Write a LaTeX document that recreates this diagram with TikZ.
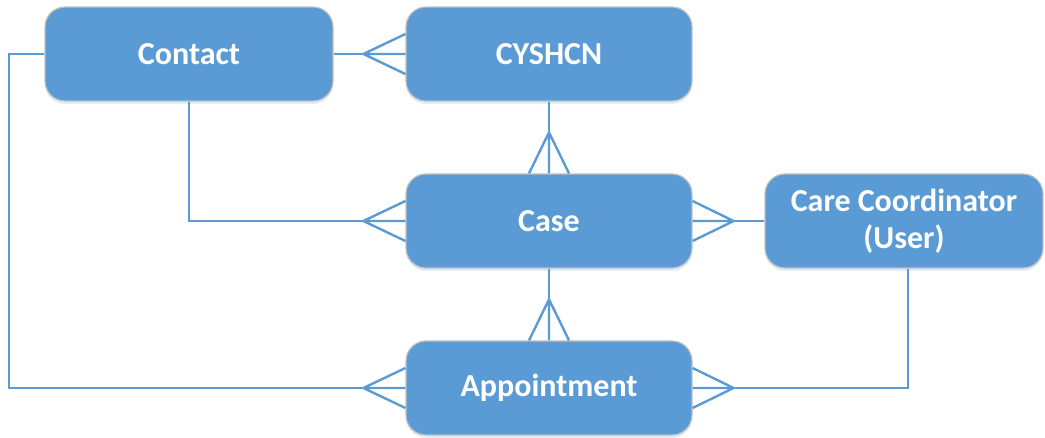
\documentclass[tikz,border=0pt]{standalone}
\usepackage{fontspec}
\setmainfont{Carlito}
\usetikzlibrary{calc,shadows}
\definecolor{boxblue}{HTML}{5B9BD5}
\definecolor{boxedge}{HTML}{BFBFBF}
% crow's foot: tip point #1, meeting the entity side at #2, spread by vector #3
\newcommand\crowfoot[3]{%
  \draw[link] (#1) -- (#2)
    (#1) -- ($(#2)+(#3)$)
    (#1) -- ($(#2)-(#3)$);}
\begin{document}
\begin{tikzpicture}[x=1pt,y=-1pt,
  entity/.style={draw=boxedge, line width=1.2pt, fill=boxblue,
    rounded corners=20pt, minimum width=286pt, minimum height=94pt,
    inner sep=0pt, text=white, align=center,
    font=\fontsize{32}{37}\selectfont\bfseries,
    drop shadow={shadow xshift=0pt, shadow yshift=-3pt, opacity=0.18, fill=boxblue}},
  link/.style={draw=boxblue, line width=2.4pt, line join=miter}]
\useasboundingbox (0,0) rectangle (1045,437);

% entities
\node[entity, minimum width=288pt] (contact) at (189,54) {Contact};
\node[entity] (cyshcn) at (549,54) {CYSHCN};
\node[entity] (case) at (549,221) {Case};
\node[entity, minimum width=278pt] (cc) at (904,221) {Care Coordinator\\(User)};
\node[entity] (appt) at (549,388) {Appointment};

% Contact -- CYSHCN
\coordinate (t1) at ($(cyshcn.west)+(-42,0)$);
\draw[link] (contact.east) -- (t1);
\crowfoot{t1}{cyshcn.west}{0,20}

% CYSHCN -- Case
\coordinate (t2) at ($(case.north)+(0,-41)$);
\draw[link] (cyshcn.south) -- (t2);
\crowfoot{t2}{case.north}{20,0}

% Contact -- Case
\coordinate (t3) at ($(case.west)+(-42,0)$);
\draw[link] (contact.south) |- (t3);
\crowfoot{t3}{case.west}{0,20}

% Care Coordinator -- Case
\coordinate (t4) at ($(case.east)+(41,0)$);
\draw[link] (cc.west) -- (t4);
\crowfoot{t4}{case.east}{0,20}

% Case -- Appointment
\coordinate (t5) at ($(appt.north)+(0,-41)$);
\draw[link] (case.south) -- (t5);
\crowfoot{t5}{appt.north}{20,0}

% Contact -- Appointment
\coordinate (t6) at ($(appt.west)+(-42,0)$);
\draw[link] (contact.west) -- (9,54) |- (t6);
\crowfoot{t6}{appt.west}{0,20}

% Care Coordinator -- Appointment
\coordinate (t7) at ($(appt.east)+(41,0)$);
\draw[link] ($(cc.south)+(4,0)$) |- (t7);
\crowfoot{t7}{appt.east}{0,20}
\end{tikzpicture}
\end{document}
